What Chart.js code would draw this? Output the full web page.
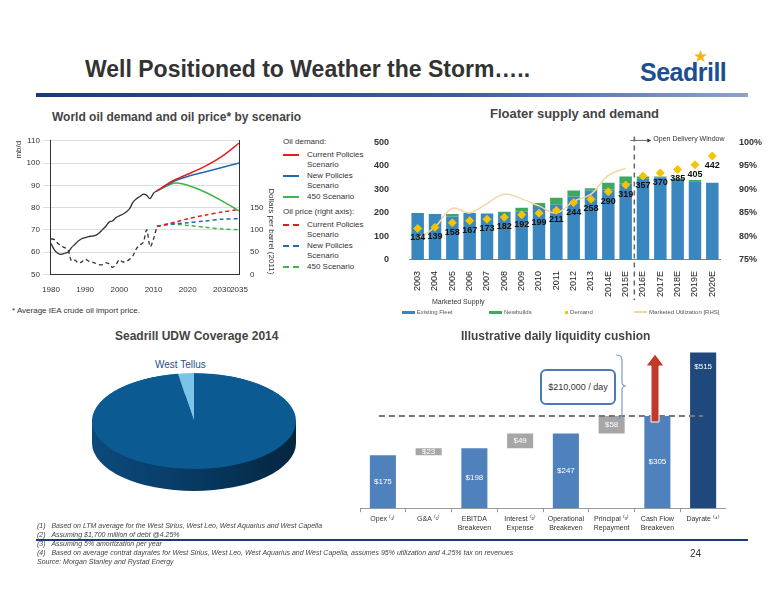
<!DOCTYPE html>
<html>
<head>
<meta charset="utf-8">
<script src="https://cdn.jsdelivr.net/npm/chart.js@4"></script>
<style>
  body { margin: 0; width: 776px; height: 600px; background: #fff; font-family: Arial, "Liberation Sans", sans-serif; position: relative; overflow: hidden; color: #333; }
  .abs { position: absolute; }
  canvas { position: absolute; }
  .leg { font-size: 8px; color: #333; line-height: 10px; }
  .leg .row { display: flex; align-items: flex-start; margin-bottom: 1px; }
  .leg .sw { width: 16px; margin: 4px 8px 0 0; border-top: 2px solid; flex: none; }
  .note { font-size: 7px; font-style: italic; color: #444; line-height: 9px; }
</style>
</head>
<body>
<div class="abs" style="left:85px;top:56px;font-size:23px;font-weight:bold;color:#333;">Well Positioned to Weather the Storm…..</div>
<div class="abs" style="left:640px;top:58px;font-size:25px;font-weight:bold;color:#1d4e8f;letter-spacing:-0.5px;">Seadrill</div>
<div class="abs" style="left:693px;top:46px;font-size:17px;color:#f2b31a;">★</div>
<div class="abs" style="left:36px;top:93px;width:712px;height:4px;background:linear-gradient(90deg,#1b3a7a,#3c5d9c 60%,#8ea3c8);"></div>

<div class="abs" style="left:52px;top:110px;font-size:12px;font-weight:bold;color:#444;">World oil demand and oil price* by scenario</div>
<div class="abs" style="left:490px;top:106px;font-size:13px;font-weight:bold;color:#444;">Floater supply and demand</div>

<canvas id="oil" class="abs" style="left:14px;top:133px;" width="266" height="165"></canvas>
<div class="abs leg" style="left:283px;top:137px;width:90px;">
  <div style="margin-bottom:3px;">Oil demand:</div>
  <div class="row"><span class="sw" style="border-color:#e02020"></span>Current Policies Scenario</div>
  <div class="row"><span class="sw" style="border-color:#1f6ab3"></span>New Policies Scenario</div>
  <div class="row"><span class="sw" style="border-color:#3fb54a"></span>450 Scenario</div>
  <div style="margin:5px 0 3px;">Oil price (right axis):</div>
  <div class="row"><span class="sw" style="border-color:#e02020;border-top-style:dashed"></span>Current Policies Scenario</div>
  <div class="row"><span class="sw" style="border-color:#1f6ab3;border-top-style:dashed"></span>New Policies Scenario</div>
  <div class="row"><span class="sw" style="border-color:#3fb54a;border-top-style:dashed"></span>450 Scenario</div>
</div>
<div class="abs" style="left:12px;top:306px;font-size:8px;color:#333;">* Average IEA crude oil import price.</div>

<canvas id="floater" class="abs" style="left:362px;top:125px;" width="410" height="175"></canvas>
<div class="abs" style="left:432px;top:298px;font-size:7px;color:#333;">Marketed Supply</div>
<div class="abs" style="left:402px;top:309px;width:340px;font-size:6px;color:#555;">
  <span style="display:inline-block;width:13px;height:3px;background:#3a87c0;vertical-align:middle;"></span> Existing Fleet
  <span style="display:inline-block;width:13px;height:3px;background:#3fa860;vertical-align:middle;margin-left:35px;"></span> Newbuilds
  <span style="display:inline-block;width:3px;height:3px;background:#f5c400;vertical-align:middle;margin-left:32px;"></span> Demand
  <span style="display:inline-block;width:13px;height:2px;background:#efd9a3;vertical-align:middle;margin-left:40px;"></span> Marketed Utilization [RHS]
</div>

<div class="abs" style="left:115px;top:329px;font-size:12px;font-weight:bold;color:#444;">Seadrill UDW Coverage 2014</div>
<div class="abs" style="left:461px;top:329px;font-size:12px;font-weight:bold;color:#444;">Illustrative daily liquidity cushion</div>

<div class="abs" style="left:155px;top:359px;font-size:10px;color:#2c4f8a;">West Tellus</div>
<div class="abs" style="left:92px;top:421px;width:204px;height:22px;background:linear-gradient(90deg,#0c4a7c,#073a63 50%,#04253f);"></div>
<div class="abs" style="left:92px;top:395px;width:204px;height:96px;border-radius:50%;background:linear-gradient(90deg,#0c4a7c,#073a63 50%,#04253f);"></div>
<canvas id="pie" class="abs" style="left:92px;top:319px;transform:scaleY(0.47);transform-origin:50% 50%;" width="204" height="204"></canvas>

<canvas id="cushion" class="abs" style="left:360px;top:345px;" width="366" height="190"></canvas>
<div class="abs" style="left:540px;top:369px;width:72px;height:32px;border:2px solid #4a7ab8;border-radius:6px;background:#fff;font-size:9px;color:#333;line-height:32px;text-align:center;">$210,000 / day</div>
<svg class="abs" style="left:612px;top:352px;" width="60" height="72">
  <path d="M4 3 Q10 3 10 8 L10 30 Q10 34 14 34 Q10 34 10 38 L10 62 Q10 67 4 67" fill="none" stroke="#7f9cc5" stroke-width="1.2"/>
  <polygon points="43,2 52,14 47,14 47,70 39,70 39,14 34,14" fill="#c0392b" stroke="#fff" stroke-width="1"/>
</svg>

<div class="abs note" style="left:37px;top:521px;">
  (1)&nbsp;&nbsp;&nbsp;Based on LTM average for the West Sirius, West Leo, West Aquarius and West Capella<br>
  (2)&nbsp;&nbsp;&nbsp;Assuming $1,700 million of debt @4.25%<br>
  (3)&nbsp;&nbsp;&nbsp;Assuming 5% amortization per year<br>
  (4)&nbsp;&nbsp;&nbsp;Based on average contrat dayrates for West Sirius, West Leo, West Aquarius and West Capella, assumes 95% utilization and 4.25% tax on revenues<br>
  Source: Morgan Stanley and Rystad Energy
</div>
<div class="abs" style="left:36px;top:539px;width:712px;height:2px;background:#1b3a7a;"></div>
<div class="abs" style="left:690px;top:548px;font-size:10px;color:#333;">24</div>

<script>
// World oil demand / price (IEA)
const histYears = [1980,1981,1982,1983,1984,1985,1986,1987,1988,1989,1990,1991,1992,1993,1994,1995,1996,1997,1998,1999,2000,2001,2002,2003,2004,2005,2006,2007,2008,2009,2010,2011];
const demandHist = [64,61,59.5,59,59.5,60,62,63.5,65,66,66.5,67,67.2,67.5,68.5,70,71.5,73.5,74,75.5,76.3,77,78,79.5,82.5,84,85,86,85.5,84,86.5,87.5];
const priceHist = [80,78,70,64,60,55,30,32,26,28,34,30,28,25,22,22,26,24,16,22,33,28,29,34,42,58,66,72,100,62,80,108];
const scenYears = [2011,2015,2017,2020,2025,2030,2035];
const demandCurrent = [87.5,91.5,93,95,98.5,103,109];
const demandNew = [87.5,91,92.5,94,96,98,100];
const demand450 = [87.5,90.5,91,90,87,83,78.5];
const priceCurrent = [108,115,119,125,133,140,146];
const priceNew = [108,113,114,116,120,124,125];
const price450 = [108,113,112,110,106,102,100];
const oilXTicks = [1980,1990,2000,2010,2020,2030,2035];

// Floater supply and demand
const floaterYears = ['2003','2004','2005','2006','2007','2008','2009','2010','2011','2012','2013','2014E','2015E','2016E','2017E','2018E','2019E','2020E'];
const existingFleet = [200,195,185,200,198,200,205,230,235,270,295,300,325,345,350,345,335,328];
const newbuilds = [0,0,10,0,0,5,17,12,30,25,10,28,30,10,5,2,5,0];
const floaterDemand = [134,139,158,167,173,182,192,199,211,244,258,290,319,357,370,385,405,442];
const utilization = [79.5,82,86,85,87,89,88,86.5,85,87.5,89,93,94.5,null,null,null,null,null];

// UDW coverage
const pieLabels = ['West Tellus','Contracted'];
const pieValues = [2.5,97.5];

// Liquidity cushion ($000/day)
const cushionLabels = [['Opex ⁽¹⁾'],['G&A ⁽¹⁾'],['EBITDA','Breakeven'],['Interest ⁽²⁾','Expense'],['Operational','Breakeven'],['Principal ⁽³⁾','Repayment'],['Cash Flow','Breakeven'],['Dayrate ⁽⁴⁾']];
const cushionLow = [0,175,0,198,0,247,0,0];
const cushionHigh = [175,198,198,247,247,305,305,515];
const cushionText = ['$175','$23','$198','$49','$247','$58','$305','$515'];

const pts = (xs, ys) => xs.map((x, i) => ({ x: x, y: ys[i] }));

function oilLine(data, color, axis, dashed, w) {
  return { data: data, borderColor: color, borderWidth: w || 1.5, borderDash: dashed ? [4, 3] : [], pointRadius: 0, yAxisID: axis, showLine: true, fill: false, tension: 0.3 };
}

new Chart(document.getElementById('oil'), {
  type: 'scatter',
  data: {
    datasets: [
      oilLine(pts(histYears, demandHist), '#333', 'y', false, 1.3),
      oilLine(pts(histYears, priceHist), '#333', 'y1', true, 1.3),
      oilLine(pts(scenYears, demandCurrent), '#e02020', 'y'),
      oilLine(pts(scenYears, demandNew), '#1f6ab3', 'y'),
      oilLine(pts(scenYears, demand450), '#3fb54a', 'y'),
      oilLine(pts(scenYears, priceCurrent), '#e02020', 'y1', true),
      oilLine(pts(scenYears, priceNew), '#1f6ab3', 'y1', true),
      oilLine(pts(scenYears, price450), '#3fb54a', 'y1', true)
    ]
  },
  options: {
    responsive: false, animation: false,
    plugins: { legend: { display: false }, tooltip: { enabled: false } },
    scales: {
      x: {
        type: 'linear', min: 1980, max: 2035,
        afterBuildTicks: ax => { ax.ticks = oilXTicks.map(v => ({ value: v })); },
        ticks: { font: { size: 8 }, color: '#333', autoSkip: false, maxRotation: 0, callback: v => String(v) },
        grid: { display: false }, border: { color: '#333' }
      },
      y: {
        min: 50, max: 110,
        ticks: { stepSize: 10, font: { size: 8 }, color: '#333' },
        grid: { color: '#ddd' }, border: { color: '#333' },
        title: { display: true, text: 'mb/d', align: 'end', font: { size: 8 }, color: '#333', padding: 0 }
      },
      y1: {
        position: 'right', min: 0, max: 300,
        afterBuildTicks: ax => { ax.ticks = [0,50,100,150].map(v => ({ value: v })); },
        ticks: { font: { size: 8 }, color: '#333' },
        grid: { display: false }, border: { color: '#333' },
        title: { display: true, text: 'Dollars per barrel (2011)', align: 'start', font: { size: 8 }, color: '#333', padding: { top: 4, bottom: 0 } }
      }
    }
  }
});

const floaterExtras = {
  id: 'floaterExtras',
  afterDatasetsDraw(chart) {
    const ctx = chart.ctx;
    const x = chart.scales.x, y = chart.scales.y;
    const meta = chart.getDatasetMeta(2);
    ctx.save();
    ctx.font = 'bold 9px Arial';
    ctx.fillStyle = '#111';
    ctx.textAlign = 'center';
    ctx.textBaseline = 'top';
    meta.data.forEach((p, i) => ctx.fillText(floaterDemand[i], p.x, p.y + 5));
    const xs = (x.getPixelForValue(12) + x.getPixelForValue(13)) / 2;
    ctx.strokeStyle = '#666';
    ctx.lineWidth = 1.5;
    ctx.setLineDash([5, 4]);
    ctx.beginPath();
    ctx.moveTo(xs, y.top - 6);
    ctx.lineTo(xs, chart.height);
    ctx.stroke();
    ctx.setLineDash([]);
    ctx.lineWidth = 1;
    ctx.beginPath();
    ctx.moveTo(xs - 4, y.top - 2);
    ctx.lineTo(xs + 14, y.top - 2);
    ctx.stroke();
    ctx.fillStyle = '#333';
    ctx.beginPath();
    ctx.moveTo(xs + 17, y.top - 2); ctx.lineTo(xs + 13, y.top - 4); ctx.lineTo(xs + 13, y.top); ctx.fill();
    ctx.font = '7px Arial';
    ctx.textAlign = 'left';
    ctx.textBaseline = 'middle';
    ctx.fillText('Open Delivery Window', xs + 19, y.top - 3);
    ctx.restore();
  }
};

new Chart(document.getElementById('floater'), {
  data: {
    labels: floaterYears,
    datasets: [
      { type: 'bar', data: existingFleet, backgroundColor: '#3a87c0', stack: 's', barPercentage: 0.8, categoryPercentage: 0.9, order: 3 },
      { type: 'bar', data: newbuilds, backgroundColor: '#3fa860', stack: 's', barPercentage: 0.8, categoryPercentage: 0.9, order: 3 },
      { type: 'line', data: floaterDemand, showLine: false, pointStyle: 'rectRot', pointRadius: 4, pointBackgroundColor: '#f5c400', pointBorderColor: '#f5c400', order: 1 },
      { type: 'line', data: utilization, yAxisID: 'y1', borderColor: '#efd9a3', borderWidth: 1.5, pointRadius: 0, tension: 0.4, spanGaps: false, order: 2 }
    ]
  },
  options: {
    responsive: false, animation: false,
    layout: { padding: { top: 10 } },
    plugins: { legend: { display: false }, tooltip: { enabled: false } },
    scales: {
      x: { ticks: { font: { size: 9 }, color: '#222', maxRotation: 90, minRotation: 90, autoSkip: false }, grid: { display: false }, border: { color: '#888' } },
      y: { min: 0, max: 500, ticks: { stepSize: 100, font: { size: 9, weight: 'bold' }, color: '#333', padding: 12 }, grid: { display: false }, border: { display: false } },
      y1: { position: 'right', min: 75, max: 100, ticks: { stepSize: 5, font: { size: 9, weight: 'bold' }, color: '#333', callback: v => v + '%', padding: 10 }, grid: { display: false }, border: { display: false } }
    }
  },
  plugins: [floaterExtras]
});

new Chart(document.getElementById('pie'), {
  type: 'pie',
  data: { labels: pieLabels, datasets: [{ data: pieValues, backgroundColor: ['#7cc3ea', '#0b5a91'], borderWidth: 0 }] },
  options: {
    responsive: false, animation: false, rotation: -9,
    plugins: { legend: { display: false }, tooltip: { enabled: false } }
  }
});

const cushionExtras = {
  id: 'cushionExtras',
  afterDatasetsDraw(chart) {
    const ctx = chart.ctx;
    const y = chart.scales.y;
    const meta = chart.getDatasetMeta(0);
    ctx.save();
    const yl = y.getPixelForValue(305);
    ctx.strokeStyle = '#777';
    ctx.lineWidth = 2;
    ctx.setLineDash([6, 4]);
    ctx.beginPath();
    ctx.moveTo(meta.data[0].x - 4, yl);
    ctx.lineTo(meta.data[7].x, yl);
    ctx.stroke();
    ctx.setLineDash([]);
    ctx.font = '8px Arial';
    ctx.fillStyle = '#fff';
    ctx.textAlign = 'center';
    ctx.textBaseline = 'middle';
    meta.data.forEach((b, i) => {
      const ty = i === 7 ? b.y + 14 : (b.y + b.base) / 2;
      ctx.fillText(cushionText[i], b.x, ty);
    });
    ctx.restore();
  }
};

new Chart(document.getElementById('cushion'), {
  type: 'bar',
  data: {
    labels: cushionLabels,
    datasets: [{
      data: cushionLow.map((v, i) => [v, cushionHigh[i]]),
      backgroundColor: ['#4f81bd','#a6a6a6','#4f81bd','#a6a6a6','#4f81bd','#a6a6a6','#4f81bd','#1f497d'],
      barPercentage: 0.6, categoryPercentage: 0.95
    }]
  },
  options: {
    responsive: false, animation: false,
    plugins: { legend: { display: false }, tooltip: { enabled: false } },
    scales: {
      x: { ticks: { font: { size: 7 }, color: '#333', maxRotation: 0, autoSkip: false }, grid: { display: true, drawOnChartArea: false, tickLength: 4, color: '#999' }, border: { color: '#999' } },
      y: { display: false, min: 0, max: 540 }
    }
  },
  plugins: [cushionExtras]
});
</script>
</body>
</html>
